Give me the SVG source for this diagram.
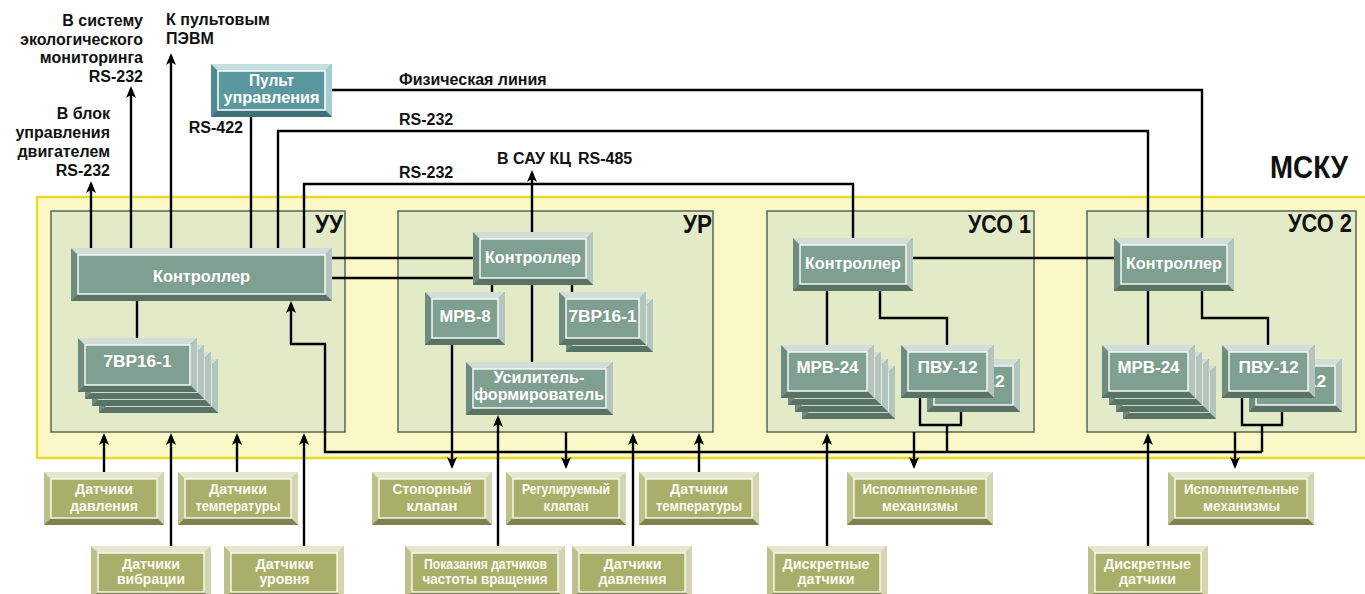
<svg xmlns="http://www.w3.org/2000/svg" xmlns:xlink="http://www.w3.org/1999/xlink" width="1365" height="594" viewBox="0 0 1365 594">
<style>
text{font-family:'Liberation Sans',Arial,sans-serif;font-weight:bold}
.tb{fill:#111;font-size:16px}
.tm{fill:#111;font-size:25px}
.tw{fill:#fff;font-size:16px;text-anchor:middle}
.to{fill:#fbfbf0;font-size:15px;text-anchor:middle}
.ln{stroke:#000;stroke-width:2.4;fill:none}
.ar{marker-end:url(#ah)}
.mod{fill:#e3eac8;stroke:#5c6656;stroke-width:1.5}
.gL{fill:#6e8b7d}.gT{fill:#d3ddd8}.gR{fill:#b3c5bc}.gB{fill:#587264}.gF{fill:#7f9f90;stroke:#f4f8f4;stroke-width:1.5}
.pL{fill:#4f8a90}.pT{fill:#c4dfe0}.pR{fill:#a5cdd0}.pB{fill:#3e7075}.pF{fill:#5b989e;stroke:#fff;stroke-width:1.5}
.oL{fill:#bcc08a}.oT{fill:#e6e7cf}.oR{fill:#d3d5b1}.oB{fill:#7d8251}.oF{fill:#a9af6a;stroke:#f6f6e6;stroke-width:1.5}
</style>
<defs>
<marker id="ah" viewBox="0 0 12 10" refX="9" refY="5" markerWidth="12" markerHeight="10" markerUnits="userSpaceOnUse" orient="auto">
<path d="M0,0 L12,5 L0,10 L3,5 Z" fill="#000"/>
</marker>
<g id="g120">
<rect class="gL" x="0" y="0" width="120" height="53"/>
<polygon class="gT" points="0,0 120,0 113,7 7,7"/>
<polygon class="gR" points="120,0 120,53 113,46 113,7"/>
<polygon class="gB" points="0,53 120,53 113,46 7,46"/>
<rect class="gF" x="7" y="7" width="106" height="39"/>
</g>
<g id="g93">
<rect class="gL" x="0" y="0" width="93" height="53"/>
<polygon class="gT" points="0,0 93,0 86,7 7,7"/>
<polygon class="gR" points="93,0 93,53 86,46 86,7"/>
<polygon class="gB" points="0,53 93,53 86,46 7,46"/>
<rect class="gF" x="7" y="7" width="79" height="39"/>
</g>
<g id="g119">
<rect class="gL" x="0" y="0" width="119" height="54"/>
<polygon class="gT" points="0,0 119,0 112,7 7,7"/>
<polygon class="gR" points="119,0 119,54 112,47 112,7"/>
<polygon class="gB" points="0,54 119,54 112,47 7,47"/>
<rect class="gF" x="7" y="7" width="105" height="40"/>
</g>
<g id="g87">
<rect class="gL" x="0" y="0" width="87" height="53"/>
<polygon class="gT" points="0,0 87,0 80,7 7,7"/>
<polygon class="gR" points="87,0 87,53 80,46 80,7"/>
<polygon class="gB" points="0,53 87,53 80,46 7,46"/>
<rect class="gF" x="7" y="7" width="73" height="39"/>
</g>
<g id="o120">
<rect class="oL" x="0" y="0" width="120" height="53"/>
<polygon class="oT" points="0,0 120,0 113,7 7,7"/>
<polygon class="oR" points="120,0 120,53 113,46 113,7"/>
<polygon class="oB" points="0,53 120,53 113,46 7,46"/>
<rect class="oF" x="7" y="7" width="106" height="39"/>
</g>
<g id="o146">
<rect class="oL" x="0" y="0" width="146" height="53"/>
<polygon class="oT" points="0,0 146,0 139,7 7,7"/>
<polygon class="oR" points="146,0 146,53 139,46 139,7"/>
<polygon class="oB" points="0,53 146,53 139,46 7,46"/>
<rect class="oF" x="7" y="7" width="132" height="39"/>
</g>
</defs>

<rect width="1365" height="594" fill="#fff"/>

<g id="mscu">
<rect x="37" y="197" width="1340" height="261" fill="#fbf8c8" stroke="#e5dc2a" stroke-width="2.5"/>
<text class="tm" x="1270" y="178" style="font-size:32px" textLength="78" lengthAdjust="spacingAndGlyphs">МСКУ</text>
</g>

<g id="mod-uu">
<rect class="mod" x="51" y="211" width="294" height="221"/>
<text class="tm" x="315" y="233" textLength="28" lengthAdjust="spacingAndGlyphs">УУ</text>
</g>
<g id="mod-ur">
<rect class="mod" x="398" y="211" width="315" height="221"/>
<text class="tm" x="683" y="233" textLength="29" lengthAdjust="spacingAndGlyphs">УР</text>
</g>
<g id="mod-uso1">
<rect class="mod" x="767" y="211" width="267" height="221"/>
<text class="tm" x="968" y="233" textLength="63" lengthAdjust="spacingAndGlyphs">УСО 1</text>
</g>
<g id="mod-uso2">
<rect class="mod" x="1087" y="211" width="269" height="221"/>
<text class="tm" x="1288" y="232" textLength="64" lengthAdjust="spacingAndGlyphs">УСО 2</text>
</g>

<g id="labels">
<text class="tb" text-anchor="end" x="143" y="26">В систему</text>
<text class="tb" text-anchor="end" x="143" y="44.5">экологического</text>
<text class="tb" text-anchor="end" x="143" y="63">мониторинга</text>
<text class="tb" text-anchor="end" x="143" y="81.5">RS-232</text>
<text class="tb" text-anchor="end" x="110" y="119">В блок</text>
<text class="tb" text-anchor="end" x="110" y="138">управления</text>
<text class="tb" text-anchor="end" x="110" y="157">двигателем</text>
<text class="tb" text-anchor="end" x="110" y="176">RS-232</text>
<text class="tb" x="166" y="25">К пультовым</text>
<text class="tb" x="166" y="44">ПЭВМ</text>
<text class="tb" text-anchor="end" x="243" y="133">RS-422</text>
<text class="tb" x="399" y="85">Физическая линия</text>
<text class="tb" x="399" y="125">RS-232</text>
<text class="tb" x="399" y="178">RS-232</text>
<text class="tb" y="164"><tspan x="497">В САУ КЦ</tspan><tspan x="578">RS-485</tspan></text>
</g>

<g id="connectors">
<path class="ln ar" d="M91,248 V184"/>
<path class="ln ar" d="M131,248 V89"/>
<path class="ln ar" d="M171,248 V56"/>
<path class="ln" d="M251,248 V117"/>
<path class="ln" d="M278,248 V131 H1148 V238"/>
<path class="ln" d="M304,248 V184 H853 V238"/>
<path class="ln" d="M332,90 H1202 V238"/>
<path class="ln ar" d="M532,232 V173"/>
<path class="ln" d="M332,258 H473"/>
<path class="ln" d="M332,278 H473"/>
<path class="ln" d="M913,258 H1114"/>
<path class="ln" d="M137,301 V338"/>
<path class="ln" d="M492,285 V292"/>
<path class="ln" d="M572,285 V292"/>
<path class="ln" d="M532,285 V362"/>
<path class="ln" d="M827,291 V345"/>
<path class="ln" d="M880,291 V318 H947 V345"/>
<path class="ln" d="M920,398 V425 H961 V412"/>
<path class="ln" d="M947,425 V452"/>
<path class="ln" d="M1148,291 V345"/>
<path class="ln" d="M1202,291 V318 H1268 V345"/>
<path class="ln" d="M1242,398 V425 H1282 V412"/>
<path class="ln" d="M1262,425 V452"/>
<path class="ln ar" d="M1262,452 H325 V344 H291 V304"/>
<path class="ln ar" d="M452,345 V466"/>
<path class="ln ar" d="M566,432 V466"/>
<path class="ln ar" d="M914,432 V466"/>
<path class="ln ar" d="M1235,432 V466"/>
<path class="ln ar" d="M498,546 V418"/>
<path class="ln ar" d="M633,546 V436"/>
<path class="ln ar" d="M699,472 V436"/>
<path class="ln ar" d="M104,472 V436"/>
<path class="ln ar" d="M171,546 V436"/>
<path class="ln ar" d="M237,472 V436"/>
<path class="ln ar" d="M304,546 V436"/>
<path class="ln ar" d="M827,546 V436"/>
<path class="ln ar" d="M1148,546 V436"/>
</g>

<g id="pult">
<rect class="pL" x="211" y="64" width="121" height="53"/>
<polygon class="pT" points="211,64 332,64 325,71 218,71"/>
<polygon class="pR" points="332,64 332,117 325,110 325,71"/>
<polygon class="pB" points="211,117 332,117 325,110 218,110"/>
<rect class="pF" x="218" y="71" width="107" height="39"/>
<text class="tw" x="271.5" y="86" textLength="45" lengthAdjust="spacingAndGlyphs">Пульт</text>
<text class="tw" x="271.5" y="103" textLength="96" lengthAdjust="spacingAndGlyphs">управления</text>
</g>

<g id="uu-ctrl">
<rect class="gL" x="71" y="248" width="261" height="53"/>
<polygon class="gT" points="71,248 332,248 325,255 78,255"/>
<polygon class="gR" points="332,248 332,301 325,294 325,255"/>
<polygon class="gB" points="71,301 332,301 325,294 78,294"/>
<rect class="gF" x="78" y="255" width="247" height="39"/>
<text class="tw" x="201.5" y="282" textLength="97" lengthAdjust="spacingAndGlyphs">Контроллер</text>
</g>

<g id="uu-7vr">
<use xlink:href="#g119" x="99" y="359"/>
<use xlink:href="#g119" x="92" y="352"/>
<use xlink:href="#g119" x="85" y="345"/>
<use xlink:href="#g119" x="78" y="338"/>
<text class="tw" x="137.5" y="367" textLength="68" lengthAdjust="spacingAndGlyphs">7ВР16-1</text>
</g>

<g id="ur-ctrl">
<use xlink:href="#g120" x="473" y="232"/>
<text class="tw" x="533" y="263" textLength="96" lengthAdjust="spacingAndGlyphs">Контроллер</text>
</g>

<g id="ur-mrv8">
<rect class="gL" x="425" y="292" width="80" height="53"/>
<polygon class="gT" points="425,292 505,292 498,299 432,299"/>
<polygon class="gR" points="505,292 505,345 498,338 498,299"/>
<polygon class="gB" points="425,345 505,345 498,338 432,338"/>
<rect class="gF" x="432" y="299" width="66" height="39"/>
<text class="tw" x="465" y="322" textLength="51" lengthAdjust="spacingAndGlyphs">МРВ-8</text>
</g>

<g id="ur-7vr">
<use xlink:href="#g87" x="566" y="299"/>
<use xlink:href="#g87" x="559" y="292"/>
<text class="tw" x="602.5" y="322" textLength="68" lengthAdjust="spacingAndGlyphs">7ВР16-1</text>
</g>

<g id="ur-usil">
<rect class="gL" x="466" y="362" width="147" height="53"/>
<polygon class="gT" points="466,362 613,362 606,369 473,369"/>
<polygon class="gR" points="613,362 613,415 606,408 606,369"/>
<polygon class="gB" points="466,415 613,415 606,408 473,408"/>
<rect class="gF" x="473" y="369" width="133" height="39"/>
<text class="tw" x="539" y="383" textLength="91" lengthAdjust="spacingAndGlyphs">Усилитель-</text>
<text class="tw" x="539" y="400" textLength="130" lengthAdjust="spacingAndGlyphs">формирователь</text>
</g>

<g id="uso1-ctrl">
<use xlink:href="#g120" x="793" y="238"/>
<text class="tw" x="853" y="269" textLength="96" lengthAdjust="spacingAndGlyphs">Контроллер</text>
</g>

<g id="uso1-mrv24">
<use xlink:href="#g93" x="802" y="366"/>
<use xlink:href="#g93" x="795" y="359"/>
<use xlink:href="#g93" x="788" y="352"/>
<use xlink:href="#g93" x="781" y="345"/>
<text class="tw" x="827.5" y="373" textLength="62" lengthAdjust="spacingAndGlyphs">МРВ-24</text>
</g>

<g id="uso1-pvu">
<use xlink:href="#g93" x="927" y="359"/>
<text class="tw" x="974.5" y="387" textLength="60" lengthAdjust="spacingAndGlyphs">ПВУ-12</text>
<use xlink:href="#g93" x="901" y="345"/>
<text class="tw" x="947.5" y="373" textLength="60" lengthAdjust="spacingAndGlyphs">ПВУ-12</text>
</g>

<g id="uso2-ctrl">
<use xlink:href="#g120" x="1114" y="238"/>
<text class="tw" x="1174" y="269" textLength="96" lengthAdjust="spacingAndGlyphs">Контроллер</text>
</g>

<g id="uso2-mrv24">
<use xlink:href="#g93" x="1123" y="366"/>
<use xlink:href="#g93" x="1116" y="359"/>
<use xlink:href="#g93" x="1109" y="352"/>
<use xlink:href="#g93" x="1102" y="345"/>
<text class="tw" x="1148.5" y="373" textLength="62" lengthAdjust="spacingAndGlyphs">МРВ-24</text>
</g>

<g id="uso2-pvu">
<use xlink:href="#g93" x="1249" y="359"/>
<text class="tw" x="1296" y="387" textLength="60" lengthAdjust="spacingAndGlyphs">ПВУ-12</text>
<use xlink:href="#g93" x="1222" y="345"/>
<text class="tw" x="1268.5" y="373" textLength="60" lengthAdjust="spacingAndGlyphs">ПВУ-12</text>
</g>

<g id="s-dav1">
<use xlink:href="#o120" x="44" y="472"/>
<text class="to" x="104" y="494" textLength="58" lengthAdjust="spacingAndGlyphs">Датчики</text>
<text class="to" x="104" y="510.5" textLength="68" lengthAdjust="spacingAndGlyphs">давления</text>
</g>
<g id="s-temp1">
<use xlink:href="#o120" x="178" y="472"/>
<text class="to" x="238" y="494" textLength="58" lengthAdjust="spacingAndGlyphs">Датчики</text>
<text class="to" x="238" y="510.5" textLength="85" lengthAdjust="spacingAndGlyphs">температуры</text>
</g>
<g id="s-stop">
<use xlink:href="#o120" x="372" y="472"/>
<text class="to" x="432" y="494" textLength="79" lengthAdjust="spacingAndGlyphs">Стопорный</text>
<text class="to" x="432" y="510.5" textLength="51" lengthAdjust="spacingAndGlyphs">клапан</text>
</g>
<g id="s-reg">
<use xlink:href="#o120" x="506" y="472"/>
<text class="to" x="566" y="494" textLength="88" lengthAdjust="spacingAndGlyphs">Регулируемый</text>
<text class="to" x="566" y="510.5" textLength="45" lengthAdjust="spacingAndGlyphs">клапан</text>
</g>
<g id="s-temp2">
<use xlink:href="#o120" x="639" y="472"/>
<text class="to" x="699" y="494" textLength="58" lengthAdjust="spacingAndGlyphs">Датчики</text>
<text class="to" x="699" y="510.5" textLength="86" lengthAdjust="spacingAndGlyphs">температуры</text>
</g>
<g id="s-isp1">
<use xlink:href="#o146" x="847" y="472"/>
<text class="to" x="920" y="494" textLength="115" lengthAdjust="spacingAndGlyphs">Исполнительные</text>
<text class="to" x="920" y="510.5" textLength="76" lengthAdjust="spacingAndGlyphs">механизмы</text>
</g>
<g id="s-isp2">
<use xlink:href="#o146" x="1168" y="472"/>
<text class="to" x="1241.5" y="494" textLength="115" lengthAdjust="spacingAndGlyphs">Исполнительные</text>
<text class="to" x="1241.5" y="510.5" textLength="77" lengthAdjust="spacingAndGlyphs">механизмы</text>
</g>
<g id="s-vib">
<use xlink:href="#o120" x="91" y="546"/>
<text class="to" x="151" y="568.5" textLength="58" lengthAdjust="spacingAndGlyphs">Датчики</text>
<text class="to" x="151" y="584" textLength="68" lengthAdjust="spacingAndGlyphs">вибрации</text>
</g>
<g id="s-lev">
<use xlink:href="#o120" x="224" y="546"/>
<text class="to" x="284.5" y="568.5" textLength="58" lengthAdjust="spacingAndGlyphs">Датчики</text>
<text class="to" x="284.5" y="584" textLength="50" lengthAdjust="spacingAndGlyphs">уровня</text>
</g>
<g id="s-rpm">
<rect class="oL" x="405" y="546" width="160" height="53"/>
<polygon class="oT" points="405,546 565,546 558,553 412,553"/>
<polygon class="oR" points="565,546 565,599 558,592 558,553"/>
<polygon class="oB" points="405,599 565,599 558,592 412,592"/>
<rect class="oF" x="412" y="553" width="146" height="39"/>
<text class="to" x="485.5" y="568.5" textLength="123" lengthAdjust="spacingAndGlyphs">Показания датчиков</text>
<text class="to" x="485" y="584" textLength="125" lengthAdjust="spacingAndGlyphs">частоты вращения</text>
</g>
<g id="s-dav2">
<use xlink:href="#o120" x="572" y="546"/>
<text class="to" x="632.5" y="568.5" textLength="58" lengthAdjust="spacingAndGlyphs">Датчики</text>
<text class="to" x="632.5" y="584" textLength="68" lengthAdjust="spacingAndGlyphs">давления</text>
</g>
<g id="s-disc1">
<use xlink:href="#o120" x="767" y="546"/>
<text class="to" x="826" y="568.5" textLength="87" lengthAdjust="spacingAndGlyphs">Дискретные</text>
<text class="to" x="826" y="584" textLength="57" lengthAdjust="spacingAndGlyphs">датчики</text>
</g>
<g id="s-disc2">
<use xlink:href="#o120" x="1088" y="546"/>
<text class="to" x="1147.5" y="568.5" textLength="87" lengthAdjust="spacingAndGlyphs">Дискретные</text>
<text class="to" x="1147.5" y="584" textLength="57" lengthAdjust="spacingAndGlyphs">датчики</text>
</g>
</svg>
